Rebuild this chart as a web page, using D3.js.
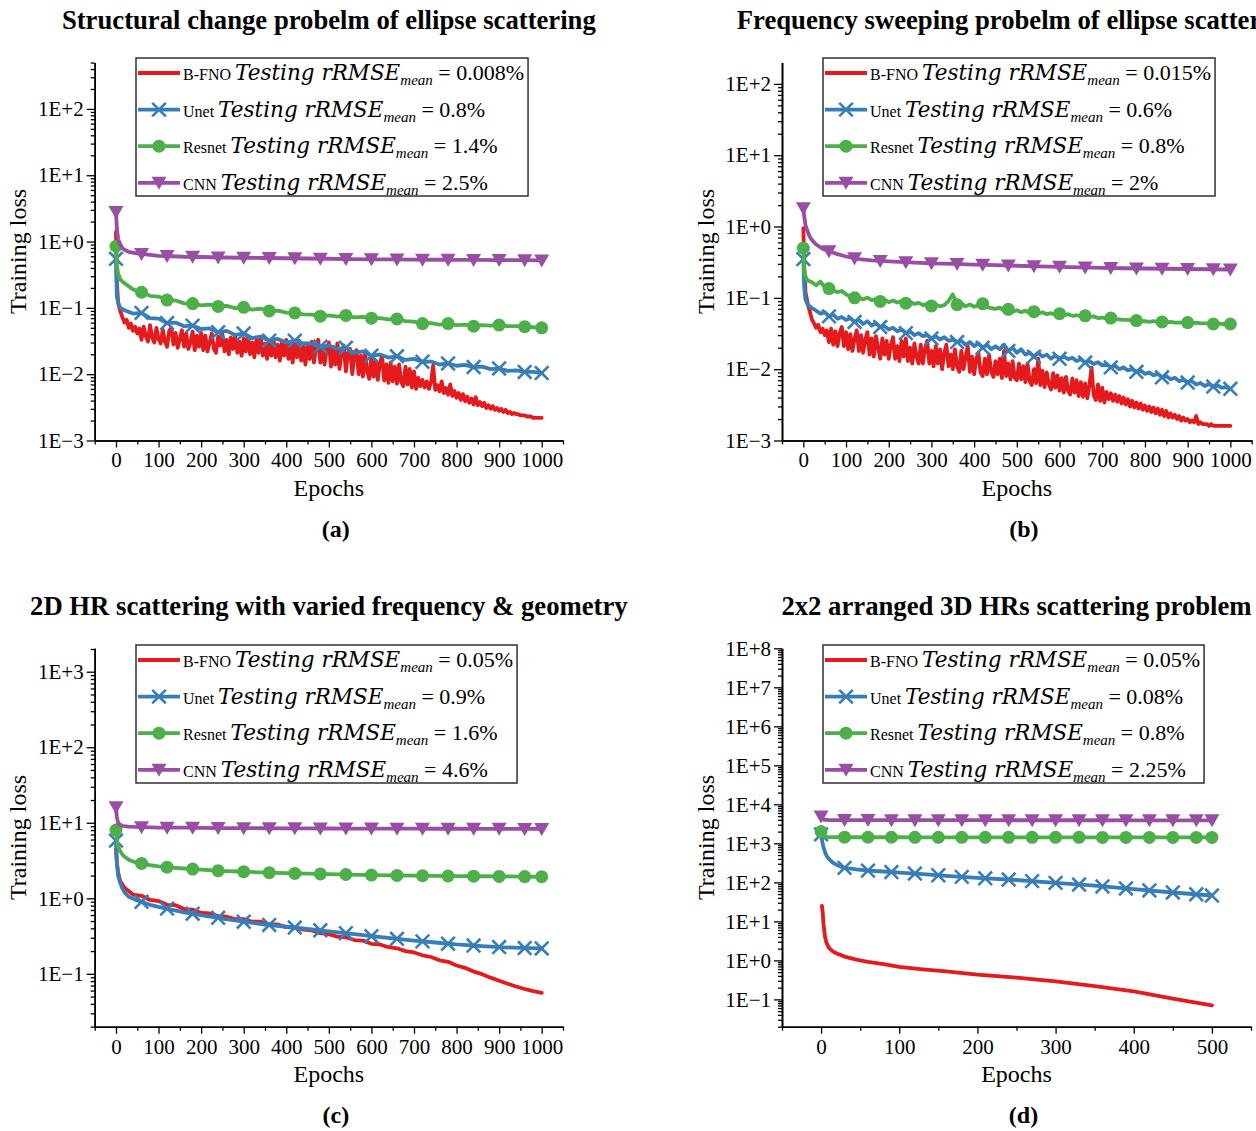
<!DOCTYPE html>
<html>
<head>
<meta charset="utf-8">
<script src="https://cdn.jsdelivr.net/npm/d3@7"></script>
<style>
  body { margin: 0; background: #fff; }
  svg { display: block; }
</style>
</head>
<body>
<svg id="chart" width="1256" height="1131"></svg>
<script>
const SERIF = '"Liberation Serif", "Times New Roman", Times, serif';
const MATH = '"DejaVu Serif", "Liberation Serif", serif';
const RED = '#e41a1c', BLUE = '#377eb8', GREEN = '#4daf4a', PURPLE = '#984ea3';
const LINE_W = 3.8;

// ---- epoch grids ----
const EPOCHS_DENSE = [0, 2, 5].concat(d3.range(10, 1001, 5));
const EPOCHS_FINE = [0, 2, 5].concat(d3.range(10, 1001, 10));
const EPOCHS_MID = [0, 2, 5, 10].concat(d3.range(20, 1001, 20));
const EPOCHS_COARSE = [0, 2, 5, 10, 15, 20, 30, 45, 60, 80, 100, 130, 160, 200,
  250, 300, 350, 400, 450, 500, 550, 600, 650, 700, 750, 800, 850, 900, 950, 1000];
const EPOCHS_D = [0, 1, 2, 3, 5, 7, 10, 15, 20, 30, 45, 60, 80, 100, 130, 160, 200, 250, 300, 350, 400, 450, 500];
const EPOCHS_D_RED = [1, 2, 3, 5, 7, 10, 15, 20, 30, 45, 60, 80, 100, 130, 160, 200, 250, 300, 350, 400, 450, 500];

// ---- (a) structural change problem ----
const RED_A = [1.4, 0.25, 0.12,
  0.090, 0.072, 0.060, 0.066, 0.050, 0.058, 0.045, 0.052, 0.041, 0.049,
  0.033, 0.052, 0.038, 0.031, 0.055, 0.036, 0.030, 0.050, 0.034, 0.029,
  0.047, 0.031, 0.026, 0.045, 0.050, 0.028, 0.042, 0.025, 0.034, 0.046,
  0.026, 0.041, 0.024, 0.030, 0.044, 0.023, 0.038, 0.026, 0.042, 0.023,
  0.038, 0.022, 0.030, 0.041, 0.024, 0.021, 0.037, 0.027, 0.040, 0.022,
  0.033, 0.020, 0.036, 0.024, 0.038, 0.021, 0.031, 0.019, 0.035, 0.022,
  0.037, 0.020, 0.030, 0.018, 0.034, 0.021, 0.036, 0.019, 0.029, 0.017,
  0.032, 0.019, 0.034, 0.018, 0.028, 0.016, 0.031, 0.019, 0.033, 0.017,
  0.028, 0.015, 0.030, 0.018, 0.032, 0.016, 0.026, 0.014, 0.029, 0.017,
  0.031, 0.015, 0.025, 0.033, 0.015, 0.027, 0.014, 0.024, 0.030, 0.013,
  0.026, 0.014, 0.029, 0.012, 0.022, 0.027, 0.011, 0.021, 0.024, 0.010,
  0.020, 0.023, 0.010, 0.019, 0.0092, 0.021, 0.011, 0.0085, 0.018, 0.0092,
  0.016, 0.0082, 0.015, 0.019, 0.0080, 0.014, 0.0074, 0.015, 0.0078, 0.013,
  0.0072, 0.014, 0.0076, 0.0066, 0.013, 0.0070, 0.012, 0.0063, 0.011, 0.0060,
  0.0088, 0.0066, 0.0082, 0.0063, 0.0078, 0.0060, 0.0075, 0.0135, 0.0058, 0.0068,
  0.0055, 0.0078, 0.0052, 0.0062, 0.0049, 0.0070, 0.0047, 0.0056, 0.0044, 0.0052,
  0.0041, 0.0050, 0.0039, 0.0046, 0.0037, 0.0043, 0.0035, 0.0045, 0.0034, 0.0038,
  0.0033, 0.0037, 0.0031, 0.0034, 0.0030, 0.0033, 0.0029, 0.0031, 0.0028, 0.0030,
  0.0027, 0.0029, 0.0026, 0.0027, 0.0025, 0.0026, 0.0025, 0.0025, 0.0024, 0.0024,
  0.0024, 0.0023, 0.0023, 0.0023, 0.0022, 0.0022, 0.0022, 0.0022, 0.0022];
const BLUE_A = [0.55, 0.15, 0.12, 0.10,
  0.092, 0.082, 0.084, 0.070, 0.069, 0.059, 0.060, 0.053, 0.054, 0.048,
  0.049, 0.043, 0.045, 0.039, 0.041, 0.035, 0.037, 0.032, 0.034, 0.030,
  0.032, 0.029, 0.029, 0.026, 0.027, 0.024, 0.025, 0.021, 0.022, 0.019,
  0.0198, 0.0178, 0.0186, 0.0164, 0.0170, 0.0154, 0.0155, 0.0140, 0.0145, 0.0134,
  0.0138, 0.0128, 0.0130, 0.0119, 0.0122, 0.0112, 0.0114, 0.0108, 0.0108, 0.0104];
const GREEN_A = [0.85, 0.45, 0.33, 0.27,
  0.235, 0.19, 0.172, 0.152, 0.148, 0.131, 0.129, 0.117, 0.116, 0.109,
  0.112, 0.105, 0.107, 0.099, 0.102, 0.094, 0.097, 0.090, 0.091, 0.085,
  0.084, 0.080, 0.079, 0.075, 0.077, 0.074, 0.077, 0.072, 0.073, 0.070,
  0.070, 0.067, 0.068, 0.063, 0.062, 0.058, 0.059, 0.056, 0.058, 0.055,
  0.056, 0.053, 0.055, 0.054, 0.055, 0.053, 0.053, 0.052, 0.051, 0.050];
const PURPLE_A = [2.8, 1.6, 1.1, 0.9, 0.8, 0.75, 0.7, 0.67, 0.65, 0.63, 0.61, 0.6, 0.59, 0.585,
  0.575, 0.57, 0.565, 0.56, 0.555, 0.55, 0.545, 0.54, 0.537, 0.535, 0.532, 0.53, 0.528, 0.525, 0.523, 0.52];

// ---- (b) frequency sweeping problem ----
const RED_B = [0.95, 0.28, 0.12,
  0.085, 0.065, 0.050, 0.044, 0.038, 0.042, 0.033, 0.037, 0.030, 0.035,
  0.024, 0.037, 0.022, 0.034, 0.021, 0.032, 0.039, 0.021, 0.033, 0.019,
  0.031, 0.018, 0.027, 0.035, 0.018, 0.030, 0.017, 0.026, 0.033, 0.016,
  0.027, 0.015, 0.029, 0.020, 0.014, 0.027, 0.016, 0.025, 0.014, 0.022,
  0.028, 0.014, 0.021, 0.013, 0.025, 0.015, 0.027, 0.013, 0.020, 0.012,
  0.023, 0.015, 0.012, 0.022, 0.012, 0.019, 0.025, 0.012, 0.018, 0.011,
  0.021, 0.012, 0.019, 0.010, 0.017, 0.022, 0.011, 0.016, 0.010, 0.019,
  0.011, 0.0092, 0.018, 0.010, 0.015, 0.021, 0.0092, 0.015, 0.0085, 0.014,
  0.017, 0.0090, 0.0080, 0.014, 0.0085, 0.016, 0.0092, 0.0078, 0.013, 0.0085,
  0.014, 0.0075, 0.018, 0.0080, 0.012, 0.0072, 0.013, 0.0076, 0.0070, 0.012,
  0.0072, 0.011, 0.0066, 0.012, 0.0068, 0.0060, 0.010, 0.0064, 0.014, 0.0060,
  0.0095, 0.0056, 0.0090, 0.0062, 0.0052, 0.0088, 0.0055, 0.0082, 0.0050, 0.0075,
  0.0047, 0.0078, 0.0050, 0.0044, 0.0074, 0.0047, 0.0070, 0.0042, 0.0066, 0.0041,
  0.0063, 0.0039, 0.0060, 0.0105, 0.0043, 0.0037, 0.0061, 0.0036, 0.0055, 0.0034,
  0.0048, 0.0038, 0.0046, 0.0036, 0.0044, 0.0035, 0.0042, 0.0033, 0.0040, 0.0032,
  0.0038, 0.0030, 0.0036, 0.0029, 0.0034, 0.0028, 0.0033, 0.0027, 0.0031, 0.0026,
  0.0030, 0.0025, 0.0029, 0.0024, 0.0028, 0.0023, 0.0027, 0.0022, 0.0026, 0.0021,
  0.0024, 0.0021, 0.0023, 0.0020, 0.0022, 0.0019, 0.0021, 0.0019, 0.0020, 0.0018,
  0.0019, 0.0018, 0.0022, 0.0017, 0.0018, 0.0017, 0.0017, 0.0017, 0.0016, 0.0017,
  0.0016, 0.0016, 0.0016, 0.0016, 0.0016, 0.0016, 0.0016, 0.0016, 0.0016];
const BLUE_B = [0.35, 0.14, 0.095,
  0.080, 0.072, 0.066, 0.060, 0.063, 0.055, 0.058, 0.051, 0.054, 0.049,
  0.052, 0.046, 0.049, 0.043, 0.047, 0.041, 0.044, 0.039, 0.040, 0.036,
  0.038, 0.034, 0.036, 0.032, 0.034, 0.030, 0.032, 0.029, 0.030, 0.027,
  0.029, 0.026, 0.028, 0.025, 0.026, 0.024, 0.025, 0.022, 0.024, 0.021,
  0.023, 0.020, 0.022, 0.019, 0.021, 0.019, 0.022, 0.018, 0.020, 0.017,
  0.019, 0.016, 0.017, 0.015, 0.017, 0.015, 0.016, 0.014, 0.0155, 0.014,
  0.0150, 0.0138, 0.0145, 0.0130, 0.0138, 0.0124, 0.0130, 0.0118, 0.0125, 0.0113,
  0.0118, 0.0106, 0.0112, 0.0100, 0.0106, 0.0096, 0.0100, 0.0092, 0.0096, 0.0086,
  0.0090, 0.0082, 0.0086, 0.0077, 0.0080, 0.0072, 0.0076, 0.0068, 0.0071, 0.0065,
  0.0068, 0.0061, 0.0064, 0.0058, 0.0062, 0.0057, 0.0059, 0.0055, 0.0056, 0.0053];
const GREEN_B = [0.5, 0.24, 0.2,
  0.175, 0.165, 0.150, 0.170, 0.140, 0.135, 0.128, 0.120, 0.125, 0.112,
  0.104, 0.100, 0.102, 0.095, 0.101, 0.093, 0.096, 0.089, 0.094, 0.087,
  0.092, 0.086, 0.090, 0.084, 0.088, 0.082, 0.085, 0.079, 0.082, 0.077,
  0.081, 0.076, 0.079, 0.090, 0.112, 0.080, 0.084, 0.076, 0.081, 0.075,
  0.079, 0.083, 0.074, 0.072, 0.070, 0.073, 0.066, 0.069, 0.064, 0.067,
  0.063, 0.066, 0.061, 0.064, 0.060, 0.063, 0.059, 0.061, 0.058, 0.060,
  0.057, 0.059, 0.056, 0.057, 0.055, 0.056, 0.054, 0.055, 0.052, 0.053,
  0.051, 0.052, 0.050, 0.050, 0.049, 0.049, 0.048, 0.048, 0.047, 0.047,
  0.046, 0.047, 0.046, 0.046, 0.045, 0.046, 0.045, 0.045, 0.045, 0.045,
  0.044, 0.045, 0.044, 0.044, 0.044, 0.043, 0.044, 0.043, 0.043, 0.043];
const PURPLE_B = [1.8, 1.4, 1.05, 0.85, 0.72, 0.65, 0.56, 0.49, 0.45, 0.41, 0.38, 0.35, 0.335, 0.325,
  0.315, 0.305, 0.3, 0.293, 0.288, 0.282, 0.277, 0.272, 0.267, 0.263, 0.26, 0.258, 0.256, 0.254, 0.252, 0.25];

// ---- (c) 2D HR scattering ----
const RED_C = [4.5, 3.0, 2.2, 1.7,
  1.38, 1.12, 1.08, 0.95, 0.92, 0.82, 0.81, 0.72, 0.71, 0.64,
  0.63, 0.58, 0.57, 0.53, 0.53, 0.49, 0.49, 0.45, 0.45, 0.415,
  0.41, 0.385, 0.375, 0.345, 0.335, 0.31, 0.305, 0.28, 0.275, 0.25,
  0.245, 0.225, 0.218, 0.2, 0.192, 0.176, 0.167, 0.151, 0.144, 0.129,
  0.12, 0.107, 0.099, 0.089, 0.081, 0.074, 0.068, 0.063, 0.059, 0.056];
const BLUE_C = [5.8, 3.0, 2.0, 1.6, 1.35, 1.2, 1.05, 0.96, 0.9, 0.82, 0.77, 0.71, 0.65, 0.6,
  0.54, 0.49, 0.45, 0.42, 0.395, 0.365, 0.34, 0.315, 0.295, 0.275, 0.26, 0.245, 0.235, 0.226, 0.22, 0.217];
const GREEN_C = [8.0, 6.0, 4.8, 4.2, 3.8, 3.55, 3.25, 3.0, 2.9, 2.75, 2.65, 2.55, 2.48, 2.4,
  2.3, 2.25, 2.19, 2.15, 2.12, 2.09, 2.06, 2.03, 2.01, 2.0, 1.98, 1.97, 1.96, 1.95, 1.94, 1.93];
const PURPLE_C = [16, 12, 10, 9.4, 9.1, 9.0, 8.9, 8.8, 8.75, 8.7, 8.65, 8.6, 8.6, 8.55,
  8.5, 8.48, 8.46, 8.44, 8.42, 8.4, 8.38, 8.37, 8.36, 8.35, 8.34, 8.33, 8.32, 8.31, 8.3, 8.3];

// ---- (d) 2x2 arranged 3D HRs ----
const RED_D = [25, 18, 9, 4.0, 2.8, 2.1, 1.7, 1.5, 1.25, 1.05, 0.92, 0.8, 0.68, 0.59, 0.52, 0.43,
  0.36, 0.29, 0.22, 0.16, 0.105, 0.07];
const BLUE_D = [1700, 1300, 1000, 800, 600, 480, 400, 320, 280, 235, 215, 200, 190, 178, 163, 147,
  130, 115, 97, 82, 67, 55, 46];
const GREEN_D = [2000, 1700, 1550, 1500, 1470, 1460, 1450, 1445, 1440, 1440, 1435, 1435, 1433, 1432,
  1430, 1430, 1428, 1426, 1425, 1423, 1422, 1420, 1420];
const PURPLE_D = [4900, 4500, 4200, 4100, 4000, 3980, 3960, 3950, 3950, 3945, 3940, 3940, 3935, 3930,
  3930, 3925, 3920, 3915, 3910, 3905, 3900, 3900, 3900];

// ---- legend labels ----
const MODEL_NAMES = ['B-FNO', 'Unet', 'Resnet', 'CNN'];
const RMSE_A = ['0.008%', '0.8%', '1.4%', '2.5%'];
const RMSE_B = ['0.015%', '0.6%', '0.8%', '2%'];
const RMSE_C = ['0.05%', '0.9%', '1.6%', '4.6%'];
const RMSE_D = ['0.05%', '0.08%', '0.8%', '2.25%'];

const TITLES = [
  'Structural change probelm of ellipse scattering',
  'Frequency sweeping probelm of ellipse scattering',
  '2D HR scattering with varied frequency & geometry',
  '2x2 arranged 3D HRs scattering problem'
];
const TAGS = ['(a)', '(b)', '(c)', '(d)'];

const MARKS_LONG = d3.range(0, 1000, 60).concat([1000]);
const MARKS_SHORT = d3.range(0, 500, 30).concat([500]);

const STYLES = [
  { color: RED, marker: null },
  { color: BLUE, marker: 'x' },
  { color: GREEN, marker: 'circle' },
  { color: PURPLE, marker: 'tri' }
];

const panels = [
  {
    xRange: [94.7, 563], xDomain: [-50, 1050], xMajor: d3.range(0, 1001, 100),
    yRange: [440.5, 62.5], yDomain: [1e-3, Math.pow(10, 2.7)],
    legend: [136, 58], marks: MARKS_LONG, rmse: RMSE_A,
    series: [[EPOCHS_DENSE, RED_A], [EPOCHS_MID, BLUE_A], [EPOCHS_MID, GREEN_A], [EPOCHS_COARSE, PURPLE_A]]
  },
  {
    xRange: [782, 1251.7], xDomain: [-50, 1050], xMajor: d3.range(0, 1001, 100),
    yRange: [440.5, 62.5], yDomain: [1e-3, Math.pow(10, 2.3)],
    legend: [823, 58], marks: MARKS_LONG, rmse: RMSE_B,
    series: [[EPOCHS_DENSE, RED_B], [EPOCHS_FINE, BLUE_B], [EPOCHS_FINE, GREEN_B], [EPOCHS_COARSE, PURPLE_B]]
  },
  {
    xRange: [94.7, 563], xDomain: [-50, 1050], xMajor: d3.range(0, 1001, 100),
    yRange: [1026.7, 648.3], yDomain: [Math.pow(10, -1.7), Math.pow(10, 3.31)],
    legend: [136, 645], marks: MARKS_LONG, rmse: RMSE_C,
    series: [[EPOCHS_MID, RED_C], [EPOCHS_COARSE, BLUE_C], [EPOCHS_COARSE, GREEN_C], [EPOCHS_COARSE, PURPLE_C]]
  },
  {
    xRange: [782, 1251], xDomain: [-50, 550], xMajor: d3.range(0, 501, 100),
    yRange: [1026.7, 648.3], yDomain: [Math.pow(10, -1.7), 1e8],
    legend: [823, 645], marks: MARKS_SHORT, rmse: RMSE_D,
    series: [[EPOCHS_D_RED, RED_D], [EPOCHS_D, BLUE_D], [EPOCHS_D, GREEN_D], [EPOCHS_D, PURPLE_D]]
  }
];

const svg = d3.select('#chart');

const expLabel = d => {
  const e = Math.round(Math.log10(d));
  return '1E' + (e >= 0 ? '+' + e : '\u2212' + (-e));
};

// log-linear value on the polyline, used only to sit markers on the line
const valueAt = (epochs, values, e) => {
  const i = d3.bisectLeft(epochs, e);
  if (epochs[i] === e) return values[i];
  const t = (e - epochs[i - 1]) / (epochs[i] - epochs[i - 1]);
  return Math.exp(Math.log(values[i - 1]) * (1 - t) + Math.log(values[i]) * t);
};

const drawMarker = (g, type, cx, cy, color) => {
  if (type === 'x') {
    const r = 6.8;
    g.append('path')
      .attr('d', `M${cx - r},${cy - r}L${cx + r},${cy + r}M${cx - r},${cy + r}L${cx + r},${cy - r}`)
      .attr('stroke', color).attr('stroke-width', 2.6).attr('fill', 'none');
  } else if (type === 'circle') {
    g.append('circle').attr('cx', cx).attr('cy', cy).attr('r', 6.5).attr('fill', color);
  } else if (type === 'tri') {
    g.append('path')
      .attr('d', `M${cx - 7.5},${cy - 6}L${cx + 7.5},${cy - 6}L${cx},${cy + 7}Z`)
      .attr('fill', color);
  }
};

const styleAxis = sel => {
  sel.attr('font-family', SERIF).attr('font-size', 21);
  sel.selectAll('.domain').attr('stroke', '#000').attr('stroke-width', 1.6);
  sel.selectAll('.tick line').attr('stroke', '#000').attr('stroke-width', 1.3);
  sel.selectAll('.tick text').attr('fill', '#000');
};

panels.forEach((p, idx) => {
  const x = d3.scaleLinear().domain(p.xDomain).range(p.xRange);
  const y = d3.scaleLog().domain(p.yDomain).range(p.yRange);
  const g = svg.append('g');
  const xAxisY = p.yRange[0];
  const yAxisX = p.xRange[0];
  const cx = (p.xRange[0] + p.xRange[1]) / 2;

  // y ticks: decades labelled, 2..9 as minor
  const lo = Math.floor(Math.log10(p.yDomain[0])), hi = Math.ceil(Math.log10(p.yDomain[1]));
  const yMajor = [], yMinor = [];
  for (let i = lo; i <= hi; i++) {
    for (let k = 1; k <= 9; k++) {
      const v = k * Math.pow(10, i);
      if (v < p.yDomain[0] * 0.9999 || v > p.yDomain[1] * 1.0001) continue;
      (k === 1 ? yMajor : yMinor).push(v);
    }
  }
  g.append('g').attr('transform', `translate(${yAxisX},0)`)
    .call(d3.axisLeft(y).tickValues(yMinor).tickSize(4).tickSizeOuter(0).tickFormat(''))
    .call(styleAxis);
  g.append('g').attr('transform', `translate(${yAxisX},0)`)
    .call(d3.axisLeft(y).tickValues(yMajor).tickSize(8).tickPadding(3).tickSizeOuter(0).tickFormat(expLabel))
    .call(styleAxis);

  // x ticks
  const xMinor = d3.range(p.xDomain[0], p.xDomain[1] + 1, 100);
  g.append('g').attr('transform', `translate(0,${xAxisY})`)
    .call(d3.axisBottom(x).tickValues(xMinor).tickSize(4).tickSizeOuter(0).tickFormat(''))
    .call(styleAxis);
  g.append('g').attr('transform', `translate(0,${xAxisY})`)
    .call(d3.axisBottom(x).tickValues(p.xMajor).tickSize(7).tickPadding(5).tickSizeOuter(0).tickFormat(d3.format('d')))
    .call(styleAxis);

  // labels
  g.append('text').attr('x', cx).attr('y', xAxisY + 55)
    .attr('text-anchor', 'middle').attr('font-family', SERIF).attr('font-size', 24).text('Epochs');
  g.append('text').attr('x', cx + 7).attr('y', xAxisY + 96.5)
    .attr('text-anchor', 'middle').attr('font-family', SERIF).attr('font-size', 24)
    .attr('font-weight', 'bold').text(TAGS[idx]);
  const ly = (p.yRange[0] + p.yRange[1]) / 2;
  g.append('text').attr('transform', `translate(${yAxisX - 68.5},${ly}) rotate(-90)`)
    .attr('text-anchor', 'middle').attr('font-family', SERIF).attr('font-size', 24).text('Training loss');
  g.append('text').attr('x', cx).attr('y', p.yRange[1] - 33.5)
    .attr('text-anchor', 'middle').attr('font-family', SERIF).attr('font-size', 26.7)
    .attr('font-weight', 'bold').text(TITLES[idx]);

  // series
  const line = d3.line().x(d => x(d[0])).y(d => y(d[1]));
  p.series.forEach(([epochs, values], si) => {
    const st = STYLES[si];
    const pts = epochs.map((e, i) => [e, values[i]]);
    g.append('path').datum(pts).attr('d', line)
      .attr('fill', 'none').attr('stroke', st.color).attr('stroke-width', LINE_W)
      .attr('stroke-linejoin', 'round').attr('stroke-linecap', 'round');
    if (st.marker) {
      p.marks.forEach(e => drawMarker(g, st.marker, x(e), y(valueAt(epochs, values, e)), st.color));
    }
  });

  // legend
  const [lx, ly0] = p.legend;
  const lg = g.append('g');
  const box = lg.append('rect').attr('x', lx).attr('y', ly0).attr('height', 138)
    .attr('fill', '#fff').attr('stroke', '#222').attr('stroke-width', 1.4);
  let maxLen = 0;
  const tx = lx + 47;
  MODEL_NAMES.forEach((name, i) => {
    const ry = ly0 + 15 + i * 36.6;
    const st = STYLES[i];
    lg.append('line').attr('x1', lx + 2).attr('x2', lx + 44).attr('y1', ry).attr('y2', ry)
      .attr('stroke', st.color).attr('stroke-width', LINE_W);
    if (st.marker) drawMarker(lg, st.marker, lx + 23, ry, st.color);
    const t = lg.append('text').attr('x', tx).attr('y', ry + 7).attr('font-family', SERIF);
    t.append('tspan').attr('font-size', 16).text(name + ' ');
    t.append('tspan').attr('font-family', MATH).attr('font-size', 21.5).attr('font-style', 'italic')
      .attr('font-weight', 'normal').text('Testing rRMSE');
    t.append('tspan').attr('font-size', 15).attr('font-style', 'italic').attr('dy', 5).text('mean');
    t.append('tspan').attr('font-size', 22).attr('dy', -5).text(' = ' + p.rmse[i]);
    maxLen = Math.max(maxLen, t.node().getComputedTextLength());
  });
  box.attr('width', tx - lx + maxLen + 4);
});
</script>
</body>
</html>
